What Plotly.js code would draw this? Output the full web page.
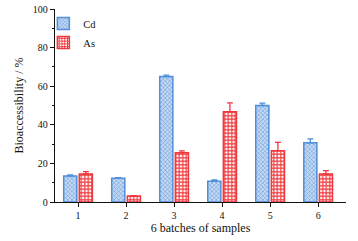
<!DOCTYPE html>
<html><head><meta charset="utf-8">
<script src="https://cdn.plot.ly/plotly-3.0.1.min.js"></script>
<style>html,body{margin:0;padding:0;background:#fff}#c{width:358px;height:241px}</style>
</head><body><div id="c"></div>
<script>
const batches = [1, 2, 3, 4, 5, 6];
const cdValues = [13.5, 12.3, 65.0, 10.8, 50.0, 30.7];
const cdErrors = [0.5, 0.3, 0.7, 0.6, 1.2, 2.0];
const asValues = [14.5, 3.1, 25.5, 46.8, 26.6, 14.5];
const asErrors = [1.2, 0.2, 1.0, 4.6, 4.3, 1.8];

const blue = '#4f8fdb', red = '#f0373c';
const font = {family: 'Liberation Serif, Times New Roman, serif', color: '#111'};

const traces = [
  {type: 'bar', name: 'Cd', x: batches, y: cdValues,
   marker: {color: '#b7d0ef', line: {color: blue, width: 1.5},
            pattern: {shape: 'x', fgcolor: '#5a90d4', bgcolor: '#c4d9f3', size: 3, solidity: 0.3}},
   error_y: {type: 'data', symmetric: false, array: cdErrors, arrayminus: [0,0,0,0,0,0], color: blue, thickness: 1.3, width: 3}},
  {type: 'bar', name: 'As', x: batches, y: asValues,
   marker: {color: red, line: {color: red, width: 1.5},
            pattern: {shape: '+', fgcolor: red, bgcolor: '#ffffff', size: 3.5, solidity: 0.55}},
   error_y: {type: 'data', symmetric: false, array: asErrors, arrayminus: [0,0,0,0,0,0], color: red, thickness: 1.3, width: 3}}
];

const layout = {
  width: 358, height: 241,
  margin: {l: 55, r: 12, t: 9, b: 39},
  paper_bgcolor: '#fff', plot_bgcolor: '#fff',
  barmode: 'group', bargap: 0.35, bargroupgap: 0.16,
  showlegend: true,
  legend: {x: -0.04, y: 1.0, xanchor: 'left', yanchor: 'top', bgcolor: 'rgba(0,0,0,0)',
           font: Object.assign({size: 10.5}, font), tracegroupgap: 0, itemwidth: 30},
  xaxis: {range: [0.52, 6.58], tickvals: batches, ticktext: batches.map(String),
          showline: true, linecolor: '#111', linewidth: 1.3, ticks: 'outside', ticklen: 4, tickcolor: '#111',
          showgrid: false, zeroline: false, tickfont: Object.assign({size: 10}, font),
          title: {text: '6 batches of samples', font: Object.assign({size: 12}, font), standoff: 3}},
  yaxis: {range: [0, 100], tickvals: [0, 20, 40, 60, 80, 100],
          showline: true, linecolor: '#111', linewidth: 1.3, ticks: 'outside', ticklen: 4, tickcolor: '#111',
          minor: {tickvals: [10, 30, 50, 70, 90], ticks: 'outside', ticklen: 2, tickcolor: '#111'},
          showgrid: false, zeroline: false, tickfont: Object.assign({size: 10}, font),
          title: {text: 'Bioaccessibility / %', font: Object.assign({size: 12}, font), standoff: 6}}
};

Plotly.newPlot('c', traces, layout, {displayModeBar: false, staticPlot: true});
</script></body></html>
